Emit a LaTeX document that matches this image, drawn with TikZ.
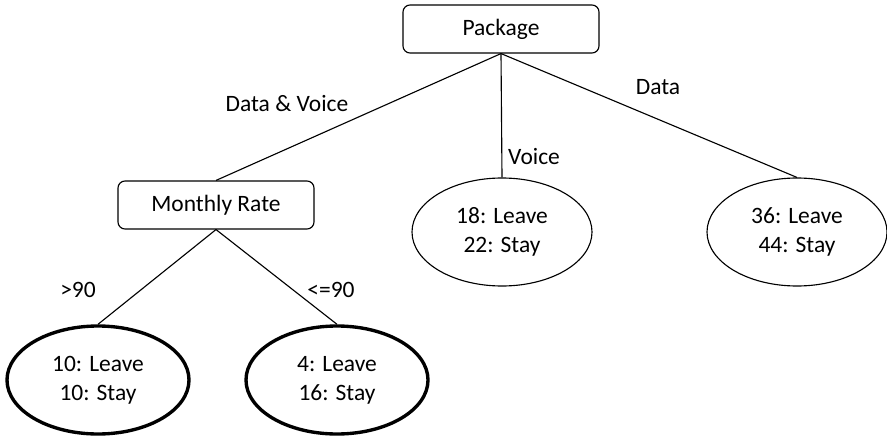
\documentclass[tikz,border=0pt]{standalone}
\usepackage{fontspec}
\setmainfont{Carlito}
\usetikzlibrary{positioning, shapes.geometric}

\begin{document}
\begin{tikzpicture}[
        split/.style={
            rectangle, rounded corners=5pt, draw=black, line width=0.8pt,
            font=\fontsize{16.7}{20.6}\selectfont, minimum height=1.2cm,
            minimum width=4.9cm, align=center
        },
        outcome/.style={
            ellipse, draw=black, line width=0.8pt,
            font=\fontsize{16.7}{20.6}\selectfont, minimum height=2.7cm,
            minimum width=4.5cm, align=center, inner sep=0pt
        },
        final/.style={
            outcome, line width=2.4pt, minimum height=2.7cm, minimum width=4.55cm
        },
        branch/.style={line width=0.8pt, color=black},
        cond/.style={font=\fontsize{16.7}{20.6}\selectfont},
    ]

    \useasboundingbox (0,0) rectangle (22.175,-10.975);

    % Root
    \node[split] (pkg) at (12.525, -0.725) {Package};

    % ---- Second level ----
    \node[split] (rate) at (5.4, -5.125) {Monthly Rate};
    \node[outcome] (voice) at (12.55, -5.8) {18: Leave\\22: Stay};
    \node[outcome] (data) at (19.925, -5.8) {36: Leave\\44: Stay};

    % ---- Leaves under Monthly Rate ----
    \node[final] (high) at (2.45, -9.5) {10: Leave\\10: Stay};
    \node[final] (low) at (8.425, -9.5) {4: Leave\\16: Stay};

    % ---- Edges ----
    \draw[branch] (pkg.south) -- (rate.north);
    \draw[branch] (pkg.south) -- (voice.north);
    \draw[branch] (pkg.south) -- (data.north);
    \draw[branch] (rate.south) -- (high.north);
    \draw[branch] (rate.south) -- (low.north);

    % ---- Edge labels ----
    \node[cond] (lbDV) at (7.175, -2.6) {Data \& Voice};
    \node[cond] (lbV) at (13.35, -3.925) {Voice};
    \node[cond] (lbD) at (16.45, -2.175) {Data};
    \node[cond] (lbHi) at (1.95, -7.25) {>90};
    \node[cond] (lbLo) at (8.275, -7.25) {<=90};

\end{tikzpicture}
\end{document}
